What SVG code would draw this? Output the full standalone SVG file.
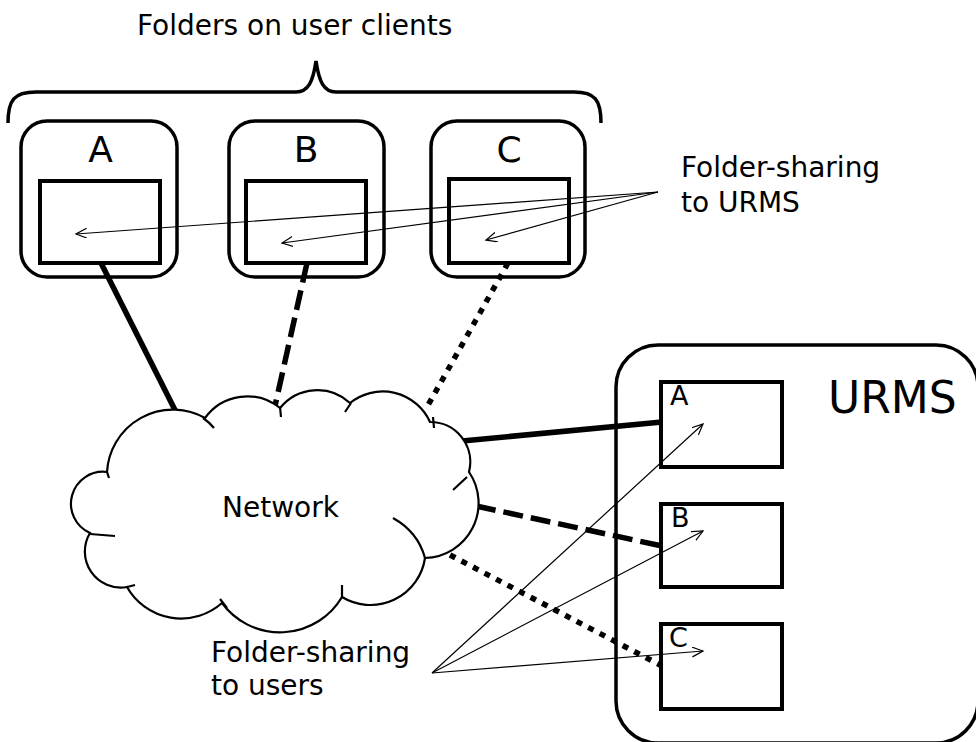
<svg xmlns="http://www.w3.org/2000/svg" width="976" height="742" viewBox="0 0 976 742">
<style>
text{font-family:"DejaVu Sans","Liberation Sans",sans-serif;fill:#000}
.outer{fill:#fff;stroke:#000;stroke-width:3.5}
.inner{fill:#fff;stroke:#000;stroke-width:4}
.thick{fill:none;stroke:#000;stroke-width:5.5}
.dash{stroke-dasharray:20 8}
.dot{stroke-dasharray:6 7}
.thin{fill:none;stroke:#000;stroke-width:1.2;marker-end:url(#arr)}
.cloud{fill:#fff;stroke:#000;stroke-width:2.2}
.tick{fill:none;stroke:#000;stroke-width:2.2}
</style>
<defs>
<marker id="arr" markerUnits="userSpaceOnUse" markerWidth="14" markerHeight="12" refX="11" refY="5" orient="auto">
<path d="M0,0 L11,5 L0,10" fill="none" stroke="#000" stroke-width="1.2"/>
</marker>
</defs>

<g id="brace">
<text x="137" y="35" font-size="28">Folders on user clients</text>
<path d="M8,123 C8,100 14,92 36,92 L296,92 C308,92 313,82 316,61 C319,82 324,92 336,92 L574,92 C595,92 601,100 601,123" fill="none" stroke="#000" stroke-width="3.5"/>
</g>

<g id="urms">
<rect class="outer" x="616" y="345" width="362" height="398" rx="42"/>
<text x="828" y="413" font-size="44">URMS</text>
</g>

<g id="client-A">
<rect class="outer" x="21" y="121" width="156" height="156" rx="26"/>
<text x="100.5" y="162" font-size="36" text-anchor="middle">A</text>
</g>
<g id="client-B">
<rect class="outer" x="229" y="121" width="155" height="156" rx="26"/>
<text x="306" y="162" font-size="36" text-anchor="middle">B</text>
</g>
<g id="client-C">
<rect class="outer" x="431" y="121" width="154" height="156" rx="26"/>
<text x="509" y="162" font-size="36" text-anchor="middle">C</text>
</g>

<g id="links">
<line class="thick" x1="101" y1="263" x2="177" y2="414"/>
<line class="thick dash" x1="307" y1="263" x2="275" y2="406"/>
<line class="thick dot" x1="508" y1="263" x2="427" y2="407"/>
<line class="thick" x1="462" y1="441" x2="662" y2="422"/>
<line class="thick dash" x1="476" y1="506" x2="662" y2="546"/>
<line class="thick dot" x1="450" y1="555" x2="662" y2="666"/>
</g>

<g id="network">
<path class="cloud" d="M107,472 A66 66 0 0 1 205,418 A52 52 0 0 1 280,408 A48 48 0 0 1 350,403 A52 52 0 0 1 430,422 A40 40 0 0 1 469,472 A55 55 0 0 1 425,558 A55 55 0 0 1 342,597 A72 72 0 0 1 222,603 A62 62 0 0 1 127,587 A36 36 0 0 1 90,533 A32 32 0 0 1 107,472 Z"/>
<path class="tick" d="M203,418 Q209,422 214,428 M280,407 L281,417 M351,403 L345,412 M433,417 L434,428 M467,477 L453,490 M425,558 Q418,532 393,518 M342,585 L342,597 M220,599 L227,608 M127,587 L135,585 M90,534 L115,536 M107,472 L109,478"/>
<text x="222" y="517" font-size="28">Network</text>
</g>

<g id="folder-A">
<rect class="inner" x="40" y="181" width="120" height="82"/>
</g>
<g id="folder-B">
<rect class="inner" x="246" y="181" width="120" height="82"/>
</g>
<g id="folder-C">
<rect class="inner" x="449" y="179" width="120" height="84"/>
</g>

<g id="urms-A">
<rect class="inner" x="661" y="382" width="121" height="85"/>
<text x="670" y="405" font-size="27">A</text>
</g>
<g id="urms-B">
<rect class="inner" x="661" y="504" width="121" height="83"/>
<text x="671" y="527" font-size="27">B</text>
</g>
<g id="urms-C">
<rect class="inner" x="661" y="624" width="121" height="85"/>
<text x="669" y="647" font-size="27">C</text>
</g>

<g id="share-links">
<line class="thin" x1="658" y1="192" x2="76" y2="234"/>
<line class="thin" x1="658" y1="192" x2="282" y2="243"/>
<line class="thin" x1="658" y1="192" x2="486" y2="240"/>
<line class="thin" x1="432" y1="673" x2="703" y2="424"/>
<line class="thin" x1="432" y1="673" x2="703" y2="531"/>
<line class="thin" x1="432" y1="673" x2="703" y2="651"/>
</g>

<g id="label-urms-share">
<text x="681" y="177" font-size="28">Folder-sharing</text>
<text x="681" y="212" font-size="28">to URMS</text>
</g>
<g id="label-user-share">
<text x="211" y="662" font-size="28">Folder-sharing</text>
<text x="211" y="695" font-size="28">to users</text>
</g>
</svg>
